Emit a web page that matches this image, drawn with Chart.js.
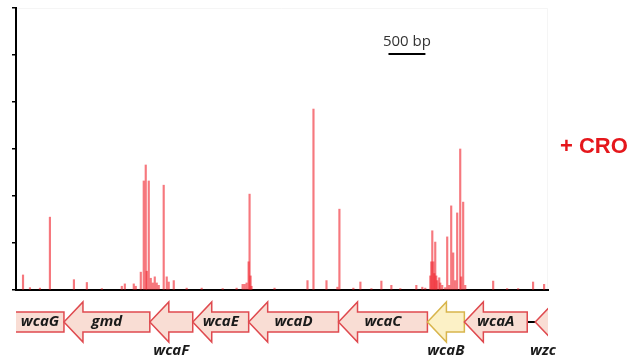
<!DOCTYPE html>
<html>
<head>
<meta charset="utf-8">
<script src="https://cdn.jsdelivr.net/npm/chart.js@4/dist/chart.umd.min.js"></script>
<style>
  html, body { margin: 0; padding: 0; background: #fff; }
  #wrap { width: 640px; height: 362px; position: relative; }
</style>
</head>
<body>
<div id="wrap"><canvas id="myChart"></canvas></div>
<script>
// read positions (bp) and read counts (axis units) of the insertion spikes
var spikePos = [95, 189, 324, 459, 784, 959, 1162, 1432, 1473, 1594, 1621, 1689, 1729, 1756, 1770, 1797,
  1824, 1851, 1878, 1905, 1932, 1999, 2040, 2067, 2135, 2310, 2513, 2797, 2986, 3067, 3094, 3121,
  3148, 3161, 3175, 3188, 3499, 3945, 4026, 4202, 4350, 4377, 4566, 4661, 4810, 4945, 5080, 5201,
  5418, 5499, 5539, 5607, 5620, 5634, 5648, 5661, 5674, 5688, 5701, 5728, 5742, 5769, 5809, 5836,
  5863, 5890, 5917, 5944, 5971, 6012, 6025, 6052, 6080, 6458, 6647, 6796, 6998, 7147];
var spikeVal = [0.32, 0.05, 0.04, 1.55, 0.22, 0.16, 0.03, 0.08, 0.13, 0.13, 0.08, 0.38, 2.32, 2.66, 0.4, 2.32,
  0.25, 0.15, 0.28, 0.15, 0.1, 2.23, 0.28, 0.17, 0.2, 0.04, 0.04, 0.03, 0.04, 0.12, 0.12, 0.15,
  0.6, 2.04, 0.3, 0.08, 0.04, 0.2, 3.85, 0.2, 0.06, 1.72, 0.04, 0.17, 0.03, 0.19, 0.1, 0.03,
  0.1, 0.06, 0.04, 0.3, 0.6, 1.26, 0.6, 0.35, 1.02, 0.3, 0.2, 0.26, 0.15, 0.1, 0.05, 1.13,
  0.1, 1.79, 0.79, 0.2, 1.64, 3.0, 0.28, 1.87, 0.1, 0.19, 0.03, 0.03, 0.17, 0.12];

// genes, all on the minus strand (arrow head at start)
var geneNames = ["wcaG", "gmd", "wcaF", "wcaE", "wcaD", "wcaC", "wcaB", "wcaA", "wzc"];
var geneStart = [-300, 649, 1811, 2392, 3149, 4365, 5568, 6068, 7027];
var geneEnd = [649, 1811, 2392, 3149, 4365, 5568, 6068, 6919, 7900];

var yTicks = [0, 1, 2, 3, 4, 5, 6];
var scaleBarBp = 500;
var scaleBarAt = 5041;
var conditionLabel = "+ CRO";

var labelsBelow = { wcaF: true, wcaB: true, wzc: true };

var extras = {
    id: 'extras',
    afterDraw: function (chart) {
        var ctx = chart.ctx;
        var xs = chart.scales.x;
        var area = chart.chartArea;
        var yMid = 322, bodyH = 10, headH = 20, headLen = 19;

        // faint plot frame
        ctx.save();
        ctx.strokeStyle = 'rgba(0,0,0,0.04)';
        ctx.lineWidth = 1;
        ctx.beginPath();
        ctx.moveTo(area.left, area.top + 0.5);
        ctx.lineTo(area.right - 0.5, area.top + 0.5);
        ctx.lineTo(area.right - 0.5, area.bottom);
        ctx.stroke();
        ctx.restore();

        // connector line wcaA -> wzc
        ctx.save();
        ctx.strokeStyle = '#000';
        ctx.lineWidth = 2;
        ctx.beginPath();
        ctx.moveTo(xs.getPixelForValue(geneEnd[7]), yMid);
        ctx.lineTo(xs.getPixelForValue(geneStart[8]), yMid);
        ctx.stroke();
        ctx.restore();

        // gene arrows
        ctx.save();
        ctx.beginPath();
        ctx.rect(area.left, 290, area.right - area.left, 72);
        ctx.clip();
        for (var i = 0; i < geneNames.length; i++) {
            var x1 = xs.getPixelForValue(geneStart[i]);
            var x2 = xs.getPixelForValue(geneEnd[i]);
            var yellow = geneNames[i] === 'wcaB';
            ctx.beginPath();
            ctx.moveTo(x1, yMid);
            ctx.lineTo(x1 + headLen, yMid - headH);
            ctx.lineTo(x1 + headLen, yMid - bodyH);
            ctx.lineTo(x2, yMid - bodyH);
            ctx.lineTo(x2, yMid + bodyH);
            ctx.lineTo(x1 + headLen, yMid + bodyH);
            ctx.lineTo(x1 + headLen, yMid + headH);
            ctx.closePath();
            ctx.fillStyle = yellow ? '#fcf1c6' : '#f9ddd4';
            ctx.fill();
            ctx.lineWidth = 1.5;
            ctx.strokeStyle = yellow ? '#d8b54c' : '#df4a4f';
            ctx.stroke();
        }
        ctx.restore();

        // gene names
        ctx.save();
        ctx.font = 'italic bold 15px "Open Sans"';
        ctx.fillStyle = '#1a1a1a';
        ctx.textAlign = 'center';
        ctx.textBaseline = 'middle';
        for (var j = 0; j < geneNames.length; j++) {
            var a = Math.max(xs.getPixelForValue(geneStart[j]), area.left);
            var b = Math.min(xs.getPixelForValue(geneEnd[j]), area.right);
            var cx = (a + b) / 2;
            if (geneNames[j] === 'wzc') cx = 543;
            var cy = labelsBelow[geneNames[j]] ? 351 : yMid;
            ctx.fillText(geneNames[j], cx, cy);
        }
        ctx.restore();

        // scale bar
        var s1 = xs.getPixelForValue(scaleBarAt);
        var s2 = xs.getPixelForValue(scaleBarAt + scaleBarBp);
        ctx.save();
        ctx.strokeStyle = '#000';
        ctx.lineWidth = 2;
        ctx.beginPath();
        ctx.moveTo(s1, 54);
        ctx.lineTo(s2, 54);
        ctx.stroke();
        ctx.font = '15px "Open Sans"';
        ctx.fillStyle = '#333';
        ctx.textAlign = 'center';
        ctx.textBaseline = 'alphabetic';
        ctx.fillText(scaleBarBp + ' bp', (s1 + s2) / 2, 46);
        ctx.restore();

        // condition label
        ctx.save();
        ctx.font = 'bold 22px "Liberation Sans"';
        ctx.fillStyle = '#e5171c';
        ctx.textAlign = 'left';
        ctx.textBaseline = 'middle';
        ctx.fillText(conditionLabel, 560, 147);
        ctx.restore();
    }
};

var points = spikePos.map(function (p, i) { return { x: p, y: spikeVal[i] }; });

var ctx = document.getElementById('myChart').getContext('2d');
var myChart = new Chart(ctx, {
    type: 'bar',
    data: {
        datasets: [{
            data: points,
            backgroundColor: 'rgba(240,30,40,0.6)',
            borderWidth: 0,
            barThickness: 1.5
        }]
    },
    options: {
        responsive: true,
        maintainAspectRatio: false,
        animation: false,
        layout: { padding: { left: 12, right: 92, top: 8, bottom: 72 } },
        plugins: { legend: { display: false }, tooltip: { enabled: false } },
        scales: {
            x: {
                type: 'linear',
                min: 0,
                max: 7200,
                offset: false,
                grid: { display: false, drawTicks: false, tickLength: 0 },
                ticks: { display: false },
                border: { display: true, color: '#000', width: 2 }
            },
            y: {
                min: yTicks[0],
                max: yTicks[yTicks.length - 1],
                afterBuildTicks: function (axis) {
                    axis.ticks = yTicks.map(function (v) { return { value: v }; });
                },
                grid: { drawOnChartArea: false, drawTicks: true, tickLength: 4, color: '#000', lineWidth: 1.5 },
                ticks: { display: false },
                border: { display: true, color: '#000', width: 2 }
            }
        }
    },
    plugins: [extras]
});
</script>
</body>
</html>
